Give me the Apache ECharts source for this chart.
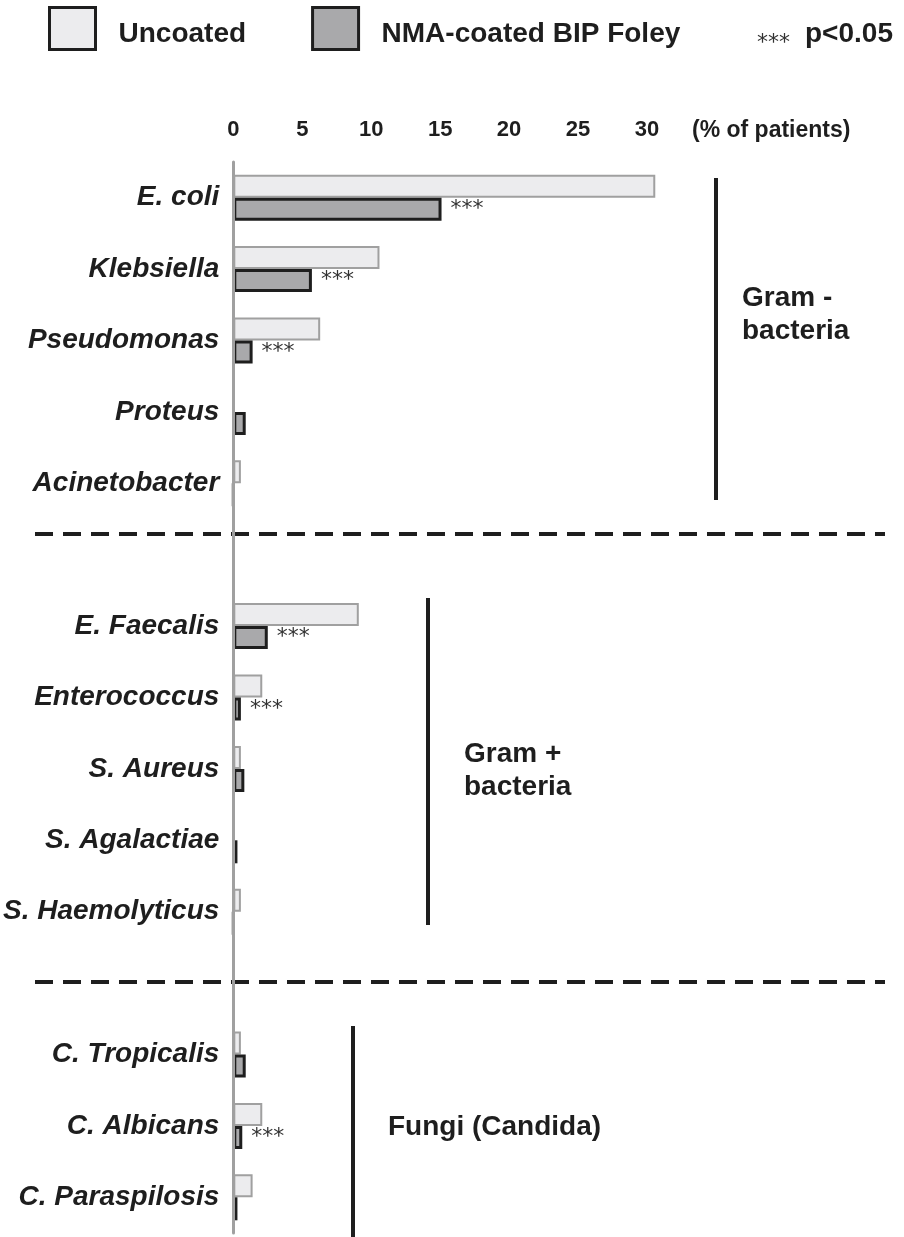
<!DOCTYPE html>
<html>
<head>
<meta charset="utf-8">
<title>Uropathogens</title>
<script src="https://cdn.jsdelivr.net/npm/echarts@6/dist/echarts.min.js"></script>
<style>
  html, body { margin: 0; padding: 0; background: #fff; }
  #chart { width: 904px; height: 1237px; }
</style>
</head>
<body>
<div id="chart"></div>
<script>
// categories top to bottom, '' = gap between groups
var categories = ['E. coli', 'Klebsiella', 'Pseudomonas', 'Proteus', 'Acinetobacter', '',
  'E. Faecalis', 'Enterococcus', 'S. Aureus', 'S. Agalactiae', 'S. Haemolyticus', '',
  'C. Tropicalis', 'C. Albicans', 'C. Paraspilosis']
// % of patients
var uncoated = [30.6, 10.6, 6.3, 0, 0.55, '-',
  9.1, 2.1, 0.55, 0, 0.55, '-',
  0.55, 2.1, 1.4]
var coated = [15.1, 5.7, 1.4, 0.9, 0, '-',
  2.5, 0.55, 0.8, 0.3, 0, '-',
  0.9, 0.65, 0.3]
// p<0.05
var significant = [1, 1, 1, 0, 0, 0,
  1, 1, 0, 0, 0, 0,
  0, 1, 0]
var xTicks = { min: 0, max: 30, interval: 5 }

var font = '"Liberation Sans", Arial, sans-serif'
var dark = '#1e1e1e'

var chart = echarts.init(document.getElementById('chart'))
var option = {
  animation: false,
  textStyle: { fontFamily: font },
  legend: {
    left: 48,
    top: 6,
    padding: 0,
    itemWidth: 46,
    itemHeight: 42,
    itemGap: 65,
    icon: 'rect',
    data: [
      { name: 'Uncoated', itemStyle: { color: '#ececee', borderColor: dark, borderWidth: 3 } },
      { name: 'NMA-coated BIP Foley', itemStyle: { color: '#a9a9ab', borderColor: dark, borderWidth: 3 } }
    ],
    formatter: '{t|{name}}',
    textStyle: {
      fontSize: 28, fontWeight: 'bold', color: dark, fontFamily: font, padding: [0, 0, 0, 18],
      rich: { t: { fontSize: 28, fontWeight: 'bold', color: dark, fontFamily: font, padding: [12, 0, 0, 0] } }
    }
  },
  grid: { left: 233, top: 162, right: 257, bottom: 4 },
  xAxis: {
    type: 'value',
    position: 'top',
    min: xTicks.min,
    max: xTicks.max,
    interval: xTicks.interval,
    axisLine: { show: false },
    axisTick: { show: false },
    splitLine: { show: false },
    axisLabel: { fontSize: 22, fontWeight: 'bold', color: dark, margin: 21, fontFamily: font }
  },
  yAxis: {
    type: 'category',
    inverse: true,
    data: categories,
    z: 5,
    axisLine: { lineStyle: { color: '#a0a0a0', width: 3 } },
    axisTick: { show: false },
    axisLabel: { fontSize: 28, fontWeight: 'bold', fontStyle: 'italic', color: dark, margin: 14, fontFamily: font }
  },
  series: [
    {
      name: 'Uncoated',
      type: 'bar',
      data: uncoated,
      barWidth: 23,
      barGap: '0%',
      clip: false,
      itemStyle: { color: '#ececee', borderColor: '#a0a0a0', borderWidth: 2 }
    },
    {
      name: 'NMA-coated BIP Foley',
      type: 'bar',
      data: coated,
      barWidth: 23,
      barGap: '0%',
      clip: false,
      itemStyle: { color: '#a9a9ab', borderColor: dark, borderWidth: 3 },
      label: {
        show: true,
        position: 'right',
        distance: 9,
        fontSize: 22,
        color: '#333',
        fontFamily: '"DejaVu Sans", sans-serif',
        padding: [6, 0, 0, 0],
        formatter: function(p) {
          return significant[p.dataIndex] ? '***' : ''
        }
      }
    }
  ],
  graphic: [
    { type: 'text', left: 757, top: 32, style: { text: '***', fontSize: 22, fill: '#333', fontFamily: '"DejaVu Sans", sans-serif' } },
    { type: 'text', left: 805, top: 20, style: { text: 'p<0.05', fontSize: 28, fontWeight: 'bold', fill: dark, fontFamily: font } },
    { type: 'text', left: 692, top: 119, style: { text: '(% of patients)', fontSize: 23, fontWeight: 'bold', fill: dark, fontFamily: font } },
    // group separators
    { type: 'line', shape: { x1: 35, y1: 534, x2: 885, y2: 534 }, style: { stroke: dark, lineWidth: 4, lineDash: [18, 10] } },
    { type: 'line', shape: { x1: 35, y1: 982, x2: 885, y2: 982 }, style: { stroke: dark, lineWidth: 4, lineDash: [18, 10] } },
    // group brackets
    { type: 'line', shape: { x1: 716, y1: 178, x2: 716, y2: 500 }, style: { stroke: dark, lineWidth: 4 } },
    { type: 'line', shape: { x1: 428, y1: 598, x2: 428, y2: 925 }, style: { stroke: dark, lineWidth: 4 } },
    { type: 'line', shape: { x1: 353, y1: 1026, x2: 353, y2: 1237 }, style: { stroke: dark, lineWidth: 4 } },
    { type: 'text', left: 742, top: 282, style: { text: 'Gram -\nbacteria', fontSize: 28, fontWeight: 'bold', fill: dark, lineHeight: 33, fontFamily: font } },
    { type: 'text', left: 464, top: 738, style: { text: 'Gram +\nbacteria', fontSize: 28, fontWeight: 'bold', fill: dark, lineHeight: 33, fontFamily: font } },
    { type: 'text', left: 388, top: 1113, style: { text: 'Fungi (Candida)', fontSize: 28, fontWeight: 'bold', fill: dark, fontFamily: font } }
  ]
}
chart.setOption(option)
</script>
</body>
</html>
